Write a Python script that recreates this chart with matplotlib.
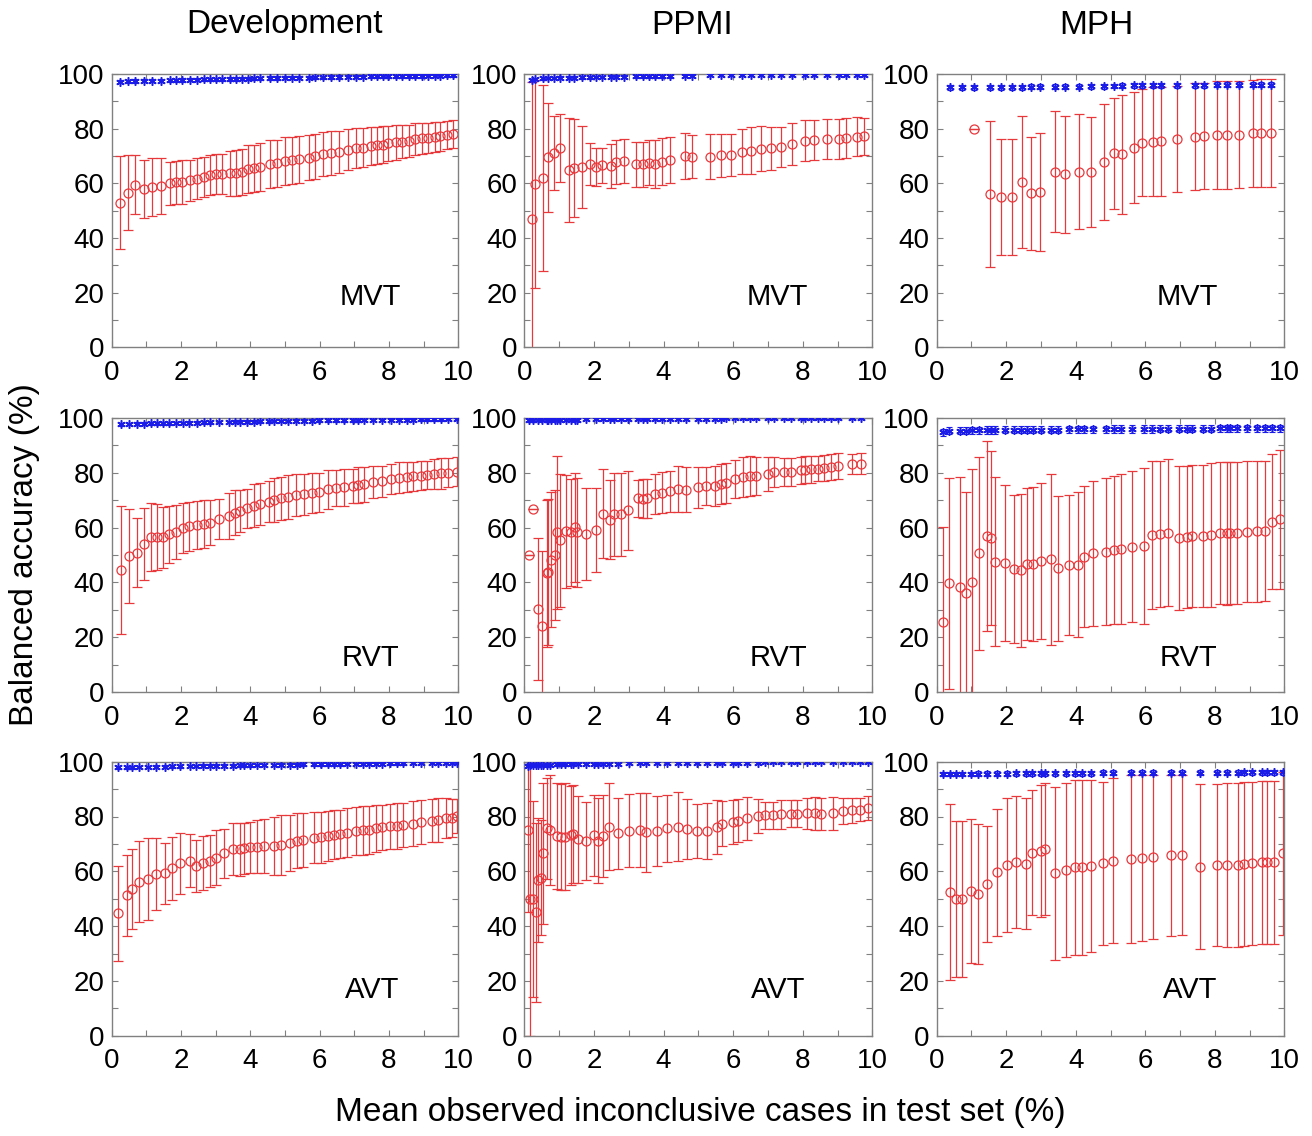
import matplotlib
matplotlib.use('Agg')
import matplotlib.pyplot as plt
from matplotlib.ticker import MultipleLocator

plt.rcParams['font.family'] = ['Liberation Sans', 'DejaVu Sans']

datasets = ['Development', 'PPMI', 'MPH']
methods = ['MVT', 'RVT', 'AVT']
x_label = 'Mean observed inconclusive cases in test set (%)'
y_label = 'Balanced accuracy (%)'

# ---------------- Development / MVT ----------------
dev_mvt_x = [0.24, 0.47, 0.67, 0.93, 1.17, 1.42, 1.68, 1.86, 2.02, 2.27,
             2.47, 2.65, 2.84, 3.02, 3.18, 3.41, 3.59, 3.75, 3.92, 4.10,
             4.28, 4.57, 4.76, 5.01, 5.20, 5.41, 5.70, 5.87, 6.11, 6.32,
             6.57, 6.83, 7.05, 7.26, 7.47, 7.66, 7.84, 7.98, 8.20, 8.39,
             8.59, 8.76, 8.94, 9.13, 9.33, 9.47, 9.66, 9.86]
dev_mvt_y = [52.9, 56.6, 59.5, 57.9, 58.5, 59.0, 60.0, 60.4, 60.5, 61.2,
             61.7, 62.4, 63.0, 63.4, 63.4, 63.7, 63.7, 64.1, 65.2, 65.5,
             66.1, 67.0, 67.3, 68.2, 68.5, 68.8, 69.4, 69.9, 70.6, 71.1,
             71.6, 72.2, 72.8, 73.0, 73.7, 73.9, 74.1, 74.6, 75.0, 75.2,
             75.6, 76.1, 76.5, 76.7, 77.0, 77.2, 77.6, 78.0]
dev_mvt_err = [17.0, 13.7, 10.8, 10.6, 10.6, 10.4, 7.9, 7.9, 7.9, 7.5,
               7.4, 7.4, 7.3, 7.2, 7.3, 8.3, 8.4, 8.5, 8.7, 8.7,
               8.8, 8.8, 8.7, 8.7, 8.6, 8.5, 8.3, 8.2, 8.0, 7.9,
               7.7, 7.5, 7.3, 7.1, 7.0, 6.8, 6.7, 6.5, 6.3, 6.1,
               5.9, 5.8, 5.6, 5.5, 5.4, 5.3, 5.2, 5.1]
dev_mvt_bx = dev_mvt_x
dev_mvt_by = [97.2, 97.3, 97.4, 97.5, 97.5, 97.6, 97.7, 97.7, 97.8, 97.9,
              97.9, 98.0, 98.0, 98.1, 98.1, 98.2, 98.2, 98.3, 98.3, 98.4,
              98.4, 98.5, 98.5, 98.6, 98.6, 98.7, 98.7, 98.8, 98.8, 98.9,
              98.9, 99.0, 99.0, 99.0, 99.1, 99.1, 99.1, 99.2, 99.2, 99.2,
              99.3, 99.3, 99.3, 99.4, 99.4, 99.4, 99.5, 99.5]

# ---------------- PPMI / MVT ----------------
ppmi_mvt_x = [0.21, 0.31, 0.54, 0.69, 0.85, 1.04, 1.29, 1.44, 1.65, 1.89,
              2.05, 2.22, 2.49, 2.63, 2.86, 3.20, 3.42, 3.58, 3.75, 3.95,
              4.19, 4.62, 4.83, 5.34, 5.64, 5.94, 6.27, 6.50, 6.80, 7.09,
              7.38, 7.70, 8.07, 8.33, 8.71, 9.05, 9.23, 9.55, 9.77]
ppmi_mvt_y = [47.0, 59.8, 62.1, 69.5, 71.0, 72.9, 64.9, 65.6, 66.1, 67.1,
              65.9, 66.6, 66.3, 67.9, 68.3, 67.0, 67.0, 67.6, 67.2, 67.9,
              68.5, 70.0, 69.8, 69.8, 70.2, 70.4, 71.5, 72.0, 72.6, 72.8,
              73.4, 74.4, 75.6, 75.9, 76.2, 76.2, 76.5, 77.0, 77.2]
ppmi_mvt_err = [50.0, 38.0, 34.0, 20.0, 13.5, 12.4, 19.0, 18.0, 15.0, 7.6,
                7.0, 6.3, 8.0, 8.0, 8.0, 8.3, 8.2, 8.2, 8.8, 8.5,
                8.5, 8.4, 7.8, 8.2, 8.0, 7.7, 8.2, 8.5, 8.2, 7.8,
                7.3, 7.6, 7.6, 7.3, 7.4, 7.4, 7.4, 7.1, 6.8]
ppmi_mvt_bx = ppmi_mvt_x
ppmi_mvt_by = [97.8, 98.2, 98.4, 98.5, 98.5, 98.6, 98.7, 98.7, 98.8, 98.8,
               98.9, 98.9, 99.0, 99.0, 99.0, 99.1, 99.1, 99.1, 99.2, 99.2,
               99.2, 99.4, 99.4, 99.6, 99.6, 99.6, 99.7, 99.7, 99.7, 99.7,
               99.7, 99.8, 99.8, 99.8, 99.8, 99.8, 99.8, 99.8, 99.8]

# ---------------- MPH / MVT ----------------
mph_mvt_x = [1.08, 1.53, 1.84, 2.16, 2.46, 2.70, 2.98, 3.40, 3.70, 4.10,
             4.43, 4.81, 5.11, 5.34, 5.68, 5.91, 6.22, 6.46, 6.92, 7.43,
             7.68, 8.06, 8.35, 8.70, 9.11, 9.33, 9.61]
mph_mvt_y = [79.9, 56.1, 54.9, 54.9, 60.5, 56.3, 56.7, 64.3, 63.3, 64.3,
             64.3, 67.9, 71.0, 70.6, 73.0, 74.9, 75.2, 75.4, 76.1, 77.0,
             77.3, 77.6, 77.6, 77.8, 78.3, 78.4, 78.4]
mph_mvt_err = [0.0, 26.6, 21.3, 21.3, 24.0, 20.8, 21.6, 22.0, 21.4, 21.0,
               20.1, 21.3, 20.4, 21.7, 20.3, 19.7, 19.9, 19.9, 19.4, 19.6,
               19.5, 19.7, 19.8, 19.6, 19.5, 19.7, 19.7]
mph_mvt_bx = [0.38, 0.74, 1.08, 1.53, 1.84, 2.16, 2.46, 2.70, 2.98, 3.40,
              3.70, 4.10, 4.43, 4.81, 5.11, 5.34, 5.68, 5.91, 6.22, 6.46,
              6.92, 7.43, 7.68, 8.06, 8.35, 8.70, 9.11, 9.33, 9.61]
mph_mvt_by = [95.1, 95.1, 95.1, 95.1, 95.2, 95.2, 95.2, 95.3, 95.3, 95.3,
              95.4, 95.4, 95.5, 95.5, 95.6, 95.7, 95.8, 95.8, 95.8, 95.8,
              95.9, 95.9, 95.9, 96.0, 96.0, 96.0, 96.0, 96.0, 96.0]

# ---------------- Development / RVT ----------------
dev_rvt_x = [0.26, 0.51, 0.72, 0.93, 1.13, 1.31, 1.49, 1.66, 1.85, 2.06,
             2.23, 2.46, 2.66, 2.83, 3.09, 3.38, 3.55, 3.69, 3.90, 4.10,
             4.29, 4.53, 4.68, 4.89, 5.10, 5.32, 5.55, 5.78, 5.99, 6.23,
             6.47, 6.71, 6.95, 7.11, 7.29, 7.55, 7.81, 8.07, 8.29, 8.53,
             8.70, 8.92, 9.11, 9.30, 9.49, 9.71, 9.97]
dev_rvt_y = [44.5, 49.6, 50.9, 54.0, 56.7, 56.7, 56.4, 57.5, 58.5, 60.0,
             60.4, 60.9, 61.3, 61.8, 63.0, 64.3, 65.4, 66.1, 67.0, 68.0,
             68.6, 69.4, 70.1, 70.6, 71.1, 71.8, 72.1, 72.5, 72.8, 73.9,
             74.3, 74.6, 75.1, 75.5, 75.8, 76.5, 76.9, 77.7, 78.2, 78.3,
             78.6, 78.9, 79.1, 79.4, 79.7, 80.0, 80.3]
dev_rvt_err = [23.4, 17.0, 12.4, 13.2, 12.4, 12.0, 11.2, 10.3, 9.8, 9.1,
               9.0, 8.6, 8.6, 8.3, 7.3, 8.4, 8.1, 7.6, 7.2, 7.7,
               7.5, 7.4, 8.0, 7.9, 7.9, 7.6, 7.5, 7.3, 7.0, 7.1,
               6.6, 6.9, 6.3, 6.4, 6.4, 5.9, 5.6, 5.6, 5.6, 5.5,
               5.3, 5.2, 5.1, 5.4, 5.5, 5.3, 5.3]
dev_rvt_bx = dev_rvt_x
dev_rvt_by = [97.6, 97.7, 97.8, 97.8, 97.9, 97.9, 98.0, 98.0, 98.1, 98.1,
              98.2, 98.2, 98.3, 98.3, 98.4, 98.4, 98.5, 98.5, 98.6, 98.6,
              98.7, 98.7, 98.8, 98.8, 98.8, 98.9, 98.9, 98.9, 99.0, 99.0,
              99.0, 99.1, 99.1, 99.1, 99.2, 99.2, 99.2, 99.3, 99.3, 99.3,
              99.3, 99.4, 99.4, 99.4, 99.4, 99.5, 99.5]

# ---------------- PPMI / RVT ----------------
ppmi_rvt_x = [0.14, 0.26, 0.40, 0.52, 0.64, 0.69, 0.76, 0.88, 0.95, 1.03,
              1.19, 1.34, 1.47, 1.52, 1.76, 2.07, 2.27, 2.46, 2.59, 2.78,
              2.99, 3.28, 3.42, 3.54, 3.77, 3.97, 4.19, 4.43, 4.66, 4.98,
              5.21, 5.48, 5.65, 5.79, 6.05, 6.28, 6.48, 6.65, 6.99, 7.18,
              7.47, 7.66, 7.94, 8.08, 8.24, 8.45, 8.62, 8.80, 9.00, 9.43,
              9.67]
ppmi_rvt_y = [50.1, 66.9, 30.3, 24.2, 43.4, 43.7, 48.3, 49.9, 58.3, 55.4,
              58.6, 58.3, 60.1, 58.2, 57.6, 59.1, 65.1, 62.9, 64.8, 64.9,
              66.3, 70.6, 70.4, 70.6, 72.2, 72.7, 73.2, 74.0, 73.7, 74.6,
              75.2, 75.2, 75.9, 76.2, 77.7, 78.3, 78.9, 78.7, 79.5, 80.2,
              80.2, 80.4, 80.8, 81.0, 81.2, 81.5, 81.8, 82.1, 82.4, 83.2,
              83.2]
ppmi_rvt_err = [0.0, 0.0, 26.0, 27.4, 26.8, 26.6, 24.5, 23.6, 27.9, 24.2,
                20.7, 19.5, 19.8, 19.8, 16.8, 15.4, 16.3, 14.3, 15.2, 15.1,
                14.4, 6.8, 7.1, 7.0, 7.2, 7.5, 7.4, 8.3, 8.2, 7.4,
                7.0, 7.2, 7.3, 7.3, 6.8, 7.3, 7.3, 6.9, 6.1, 5.5,
                5.1, 5.1, 5.0, 4.9, 4.9, 4.7, 4.7, 4.7, 4.6, 3.7,
                3.8]
ppmi_rvt_bx = ppmi_rvt_x
ppmi_rvt_by = [99.0, 99.0, 99.1, 99.1, 99.1, 99.1, 99.2, 99.2, 99.2, 99.2,
               99.3, 99.3, 99.3, 99.3, 99.4, 99.4, 99.4, 99.4, 99.5, 99.5,
               99.5, 99.5, 99.6, 99.6, 99.6, 99.6, 99.6, 99.7, 99.7, 99.7,
               99.7, 99.7, 99.7, 99.8, 99.8, 99.8, 99.8, 99.8, 99.8, 99.8,
               99.8, 99.9, 99.9, 99.9, 99.9, 99.9, 99.9, 99.9, 99.9, 99.9,
               99.9]

# ---------------- MPH / RVT ----------------
mph_rvt_x = [0.19, 0.35, 0.67, 0.83, 1.01, 1.23, 1.44, 1.56, 1.68, 1.97,
             2.21, 2.43, 2.60, 2.77, 3.00, 3.28, 3.50, 3.81, 4.07, 4.23,
             4.51, 4.87, 5.10, 5.30, 5.61, 5.96, 6.19, 6.42, 6.66, 6.98,
             7.19, 7.35, 7.67, 7.88, 8.15, 8.34, 8.44, 8.63, 8.93, 9.22,
             9.44, 9.65, 9.88]
mph_rvt_y = [25.7, 39.7, 38.5, 36.3, 40.0, 50.6, 56.9, 56.3, 47.6, 47.1,
             44.8, 44.4, 46.8, 46.8, 47.8, 48.4, 45.1, 46.4, 46.4, 49.4,
             50.6, 51.2, 51.8, 52.2, 53.0, 53.3, 57.3, 57.5, 58.1, 56.1,
             56.6, 56.9, 56.9, 57.3, 57.9, 57.9, 57.9, 58.1, 58.5, 58.7,
             58.9, 62.1, 63.0]
mph_rvt_err = [34.6, 38.5, 40.0, 36.7, 41.3, 35.2, 34.7, 31.7, 30.9, 28.5,
               26.9, 27.8, 27.7, 28.0, 28.3, 31.1, 26.4, 25.6, 26.4, 25.8,
               26.4, 26.7, 27.1, 27.2, 27.5, 28.3, 26.9, 26.6, 26.7, 26.2,
               25.8, 25.8, 25.8, 26.1, 25.9, 26.0, 25.9, 25.9, 25.7, 25.7,
               25.5, 24.5, 25.2]
mph_rvt_bx = mph_rvt_x
mph_rvt_by = [94.7, 95.2, 95.3, 95.3, 95.4, 95.4, 95.5, 95.5, 95.5, 95.6,
              95.6, 95.6, 95.6, 95.7, 95.7, 95.7, 95.7, 95.8, 95.8, 95.8,
              95.8, 95.8, 95.9, 95.9, 95.9, 95.9, 95.9, 96.0, 96.0, 96.0,
              96.0, 96.0, 96.0, 96.0, 96.1, 96.1, 96.1, 96.1, 96.1, 96.1,
              96.1, 96.1, 96.1]

# ---------------- Development / AVT ----------------
dev_avt_x = [0.19, 0.43, 0.60, 0.80, 1.04, 1.29, 1.53, 1.75, 1.98, 2.25,
             2.44, 2.64, 2.83, 3.02, 3.23, 3.50, 3.69, 3.82, 4.00, 4.19,
             4.38, 4.67, 4.89, 5.13, 5.34, 5.51, 5.85, 6.04, 6.23, 6.42,
             6.59, 6.78, 7.05, 7.24, 7.41, 7.62, 7.81, 8.03, 8.23, 8.41,
             8.68, 8.92, 9.23, 9.42, 9.64, 9.83, 9.97]
dev_avt_y = [44.6, 51.2, 53.5, 56.2, 57.2, 59.0, 59.2, 61.1, 62.9, 63.9,
             61.8, 63.1, 63.7, 65.0, 66.5, 68.2, 68.0, 68.4, 68.7, 69.0,
             69.3, 69.3, 69.6, 70.4, 71.2, 71.4, 72.3, 72.4, 72.9, 73.4,
             73.5, 74.1, 74.7, 74.9, 75.2, 75.7, 76.0, 76.4, 76.6, 76.9,
             77.3, 77.9, 78.5, 78.7, 79.3, 79.6, 80.2]
dev_avt_err = [17.2, 14.9, 14.6, 14.8, 15.0, 13.2, 11.1, 11.4, 11.1, 9.7,
               9.5, 9.9, 9.5, 9.9, 9.1, 9.5, 9.7, 9.3, 9.4, 9.8,
               9.8, 10.6, 10.8, 10.2, 10.0, 9.9, 9.3, 9.4, 9.2, 8.9,
               8.8, 8.9, 8.9, 8.9, 8.8, 8.5, 8.3, 8.3, 8.3, 8.1,
               8.2, 8.0, 7.8, 7.9, 7.3, 6.9, 6.2]
dev_avt_bx = dev_avt_x
dev_avt_by = [97.9, 98.0, 98.0, 98.1, 98.1, 98.2, 98.2, 98.3, 98.3, 98.4,
              98.4, 98.5, 98.5, 98.5, 98.6, 98.6, 98.7, 98.7, 98.7, 98.8,
              98.8, 98.8, 98.9, 98.9, 98.9, 99.0, 99.0, 99.0, 99.1, 99.1,
              99.1, 99.2, 99.2, 99.2, 99.3, 99.3, 99.3, 99.4, 99.4, 99.4,
              99.5, 99.5, 99.5, 99.6, 99.6, 99.6, 99.7]

# ---------------- PPMI / AVT ----------------
ppmi_avt_x = [0.10, 0.16, 0.26, 0.33, 0.40, 0.47, 0.55, 0.66, 0.73, 0.93,
              1.05, 1.17, 1.34, 1.41, 1.55, 1.76, 1.99, 2.13, 2.27, 2.43,
              2.68, 3.02, 3.32, 3.49, 3.80, 4.09, 4.41, 4.68, 4.97, 5.24,
              5.53, 5.67, 6.01, 6.13, 6.39, 6.72, 6.92, 7.14, 7.39, 7.66,
              7.85, 8.11, 8.35, 8.52, 8.88, 9.17, 9.41, 9.65, 9.89]
ppmi_avt_y = [75.1, 49.9, 49.9, 45.0, 56.8, 57.7, 66.6, 75.7, 75.1, 72.9,
              72.6, 72.6, 73.2, 73.6, 71.7, 71.0, 73.1, 71.2, 72.9, 76.3,
              73.8, 74.8, 75.1, 74.2, 74.7, 75.7, 76.3, 75.4, 74.7, 74.8,
              76.3, 77.3, 78.1, 78.5, 79.3, 80.2, 80.4, 80.4, 80.8, 81.0,
              81.0, 81.1, 81.1, 80.8, 81.1, 82.0, 82.2, 82.4, 83.0]
ppmi_avt_err = [29.8, 49.9, 35.6, 32.7, 22.7, 21.0, 25.7, 18.4, 20.2, 19.2,
                19.3, 19.5, 18.1, 17.9, 15.9, 14.3, 14.8, 15.6, 14.9, 15.8,
                12.9, 13.4, 13.5, 14.4, 12.8, 12.2, 12.5, 10.9, 9.7, 10.2,
                9.9, 8.2, 8.0, 7.8, 7.8, 6.2, 4.8, 4.9, 5.4, 5.0,
                4.9, 5.5, 6.0, 5.8, 6.1, 4.7, 4.4, 4.2, 4.4]
ppmi_avt_bx = ppmi_avt_x
ppmi_avt_by = [98.6, 98.7, 98.7, 98.8, 98.8, 98.8, 98.9, 98.9, 98.9, 99.0,
               99.0, 99.0, 99.1, 99.1, 99.1, 99.2, 99.2, 99.2, 99.3, 99.3,
               99.3, 99.4, 99.4, 99.4, 99.5, 99.5, 99.5, 99.5, 99.6, 99.6,
               99.6, 99.6, 99.7, 99.7, 99.7, 99.7, 99.8, 99.8, 99.8, 99.8,
               99.8, 99.8, 99.9, 99.9, 99.9, 99.9, 99.9, 99.9, 99.9]

# ---------------- MPH / AVT ----------------
mph_avt_x = [0.38, 0.56, 0.74, 0.98, 1.20, 1.46, 1.73, 2.02, 2.28, 2.57,
             2.73, 3.00, 3.12, 3.41, 3.72, 3.98, 4.17, 4.44, 4.77, 5.06,
             5.59, 5.92, 6.23, 6.74, 7.05, 7.57, 8.05, 8.34, 8.68, 8.84,
             9.08, 9.37, 9.49, 9.70, 9.97]
mph_avt_y = [52.6, 49.9, 49.9, 52.9, 51.7, 55.4, 59.6, 62.3, 63.3, 62.7,
             66.8, 67.4, 68.1, 59.2, 60.5, 61.4, 61.4, 62.0, 62.9, 63.9,
             64.4, 64.7, 65.3, 65.9, 65.9, 61.7, 62.3, 62.3, 62.3, 62.7,
             62.9, 63.3, 63.3, 63.3, 66.5]
mph_avt_err = [32.1, 28.4, 28.4, 26.3, 25.4, 21.2, 23.2, 24.5, 24.0, 23.9,
               22.9, 24.0, 24.0, 31.6, 31.8, 31.8, 31.8, 31.3, 29.7, 30.1,
               30.6, 30.3, 30.0, 29.4, 29.3, 30.0, 29.6, 29.8, 29.9, 29.8,
               29.7, 29.8, 29.7, 29.7, 29.7]
mph_avt_bx = [0.19, 0.38, 0.56, 0.74, 0.98, 1.20, 1.46, 1.73, 2.02, 2.28,
              2.57, 2.73, 3.00, 3.12, 3.41, 3.72, 3.98, 4.17, 4.44, 4.77,
              5.06, 5.59, 5.92, 6.23, 6.74, 7.05, 7.57, 8.05, 8.34, 8.68,
              8.84, 9.08, 9.37, 9.49, 9.70, 9.97]
mph_avt_by = [95.5, 95.5, 95.5, 95.5, 95.5, 95.6, 95.6, 95.6, 95.6, 95.7,
              95.7, 95.7, 95.7, 95.7, 95.8, 95.8, 95.8, 95.8, 95.8, 95.9,
              95.9, 95.9, 95.9, 95.9, 96.0, 96.0, 96.0, 96.0, 96.0, 96.0,
              96.1, 96.1, 96.1, 96.1, 96.1, 96.1]

# small error of the blue (conclusive) series, per row / column
blue_err = [[0.6, 0.5, 0.9],
            [0.5, 0.4, 1.3],
            [0.5, 0.4, 0.9]]

panels = {
    (0, 0): (dev_mvt_x, dev_mvt_y, dev_mvt_err, dev_mvt_bx, dev_mvt_by),
    (0, 1): (ppmi_mvt_x, ppmi_mvt_y, ppmi_mvt_err, ppmi_mvt_bx, ppmi_mvt_by),
    (0, 2): (mph_mvt_x, mph_mvt_y, mph_mvt_err, mph_mvt_bx, mph_mvt_by),
    (1, 0): (dev_rvt_x, dev_rvt_y, dev_rvt_err, dev_rvt_bx, dev_rvt_by),
    (1, 1): (ppmi_rvt_x, ppmi_rvt_y, ppmi_rvt_err, ppmi_rvt_bx, ppmi_rvt_by),
    (1, 2): (mph_rvt_x, mph_rvt_y, mph_rvt_err, mph_rvt_bx, mph_rvt_by),
    (2, 0): (dev_avt_x, dev_avt_y, dev_avt_err, dev_avt_bx, dev_avt_by),
    (2, 1): (ppmi_avt_x, ppmi_avt_y, ppmi_avt_err, ppmi_avt_bx, ppmi_avt_by),
    (2, 2): (mph_avt_x, mph_avt_y, mph_avt_err, mph_avt_bx, mph_avt_by),
}

RED = '#e8383c'
BLUE = '#1c1ce8'
GRAY = '#808080'

W, H = 1312, 1136
fig = plt.figure(figsize=(W / 100, H / 100), dpi=100)

col_px = [(111.7, 458.3), (524.3, 872.3), (936.7, 1284.3)]
row_px = [(74.0, 347.3), (417.7, 692.3), (761.7, 1035.7)]
label_pos = [[(0.747, 0.183), (0.727, 0.183), (0.720, 0.183)],
             [(0.747, 0.124), (0.730, 0.124), (0.725, 0.124)],
             [(0.750, 0.168), (0.730, 0.168), (0.728, 0.168)]]

for r in range(3):
    for c in range(3):
        l, rr = col_px[c]
        t, b = row_px[r]
        ax = fig.add_axes([l / W, 1 - b / H, (rr - l) / W, (b - t) / H])
        x, y, e, bx, by = panels[(r, c)]
        ax.errorbar(x, y, yerr=e, fmt='o', mfc='none', mec=RED, ms=6.5,
                    mew=0.9, ecolor=RED, elinewidth=0.9, capsize=3.5,
                    capthick=0.9, zorder=2)
        ax.errorbar(bx, by, yerr=blue_err[r][c], fmt='none', ecolor=BLUE,
                    elinewidth=0.8, capsize=2.2, capthick=0.8, zorder=3)
        ax.plot(bx, by, linestyle='none', marker=(6, 2, 0), ms=6,
                mec=BLUE, mew=1.1, zorder=4)
        ax.set_xlim(0, 10)
        ax.set_ylim(0, 100)
        ax.xaxis.set_major_locator(MultipleLocator(2))
        ax.xaxis.set_minor_locator(MultipleLocator(1))
        ax.yaxis.set_major_locator(MultipleLocator(20))
        ax.yaxis.set_minor_locator(MultipleLocator(10))
        ax.tick_params(which='both', direction='in', top=True, right=True,
                       color=GRAY, width=0.8)
        ax.tick_params(which='major', length=4)
        ax.tick_params(which='minor', length=4)
        ax.tick_params(axis='x', which='major', labelsize=20, pad=9)
        ax.tick_params(axis='y', which='major', labelsize=20, pad=5)
        for s in ax.spines.values():
            s.set_color(GRAY)
            s.set_linewidth(1.0)
        lx, ly = label_pos[r][c]
        ax.text(lx, ly, methods[r], transform=ax.transAxes, ha='center',
                va='center', fontsize=21, color='black')

title_x = [284.5, 692.5, 1096.5]
for c in range(3):
    fig.text(title_x[c] / W, 1 - 25 / H, datasets[c], ha='center',
             va='center', fontsize=24)

fig.text(700 / W, 1 - 1113 / H, x_label, ha='center', va='center', fontsize=24)
fig.text(25 / W, 1 - 555 / H, y_label, ha='center', va='center',
         rotation=90, fontsize=24)

fig.savefig('out.png', dpi=100)
